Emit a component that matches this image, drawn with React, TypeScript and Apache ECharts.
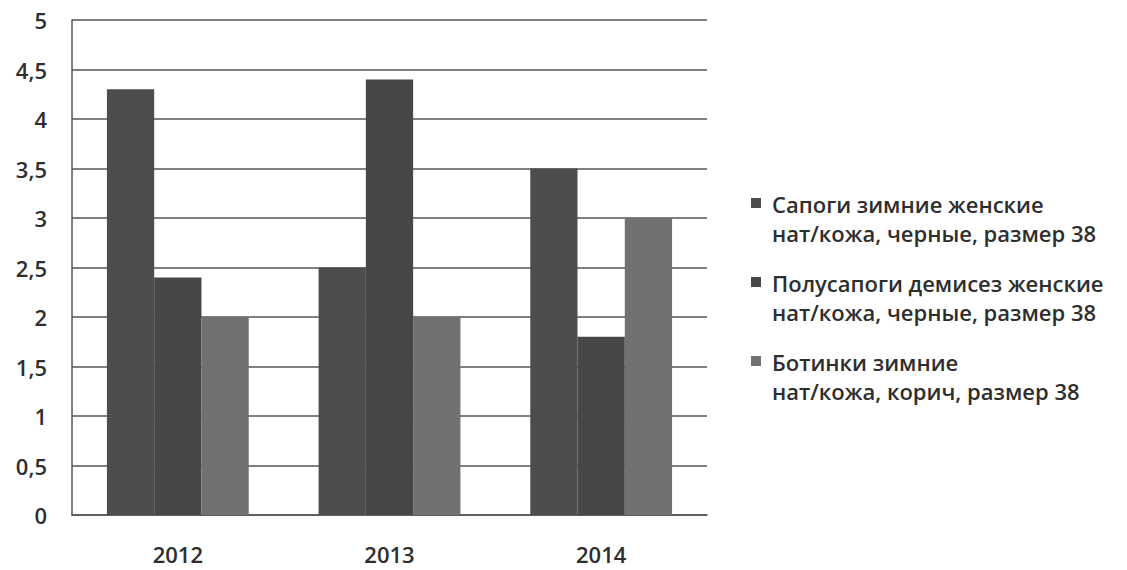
import React, { useEffect, useRef } from "react";
import * as echarts from "echarts";

const categories = ["2012", "2013", "2014"];
const seriesNames = [
  "Сапоги зимние женские\nнат/кожа, черные, размер 38",
  "Полусапоги демисез женские\nнат/кожа, черные, размер 38",
  "Ботинки зимние\nнат/кожа, корич, размер 38",
];
const seriesA = [4.3, 2.5, 3.5];
const seriesB = [2.4, 4.4, 1.8];
const seriesC = [2.0, 2.0, 3.0];
const colors = ["#4d4d4d", "#474747", "#717171"];

const FONT = "'Open Sans', 'Noto Sans', sans-serif";
const TEXT = "#2e2e2e";

export default function App() {
  const ref = useRef<HTMLDivElement>(null);
  useEffect(() => {
    if (!ref.current) return;
    const chart = echarts.init(ref.current, undefined, { renderer: "svg" });
    const values = [seriesA, seriesB, seriesC];
    const legendGraphics: any[] = [];
    seriesNames.forEach((name, i) => {
      const y0 = 203 + i * 79;
      legendGraphics.push({
        type: "rect",
        shape: { x: 751, y: y0 - 5, width: 10, height: 10 },
        style: { fill: colors[i] },
      });
      legendGraphics.push({
        type: "text",
        x: 772,
        y: y0 - 14,
        style: {
          text: name,
          font: `600 22px ${FONT}`,
          fill: TEXT,
          lineHeight: 29,
          textVerticalAlign: "top",
        },
      });
    });
    chart.setOption({
      animation: false,
      color: colors,
      grid: { left: 72, top: 20, width: 635, bottom: 55 },
      xAxis: {
        type: "category",
        data: categories,
        axisLine: { show: true, lineStyle: { color: "#555", width: 1.5 } },
        axisTick: { show: false },
        axisLabel: { margin: 28, fontSize: 22, fontWeight: 600, color: TEXT, fontFamily: FONT },
      },
      yAxis: {
        type: "value",
        min: 0,
        max: 5,
        interval: 0.5,
        axisLine: { show: true, lineStyle: { color: "#555", width: 1.5 } },
        axisTick: { show: false },
        splitLine: { lineStyle: { color: "#555", width: 1.5 } },
        axisLabel: {
          margin: 25,
          fontSize: 22,
          fontWeight: 600,
          color: TEXT,
          fontFamily: FONT,
          formatter: (v: number) => String(v).replace(".", ","),
        },
      },
      series: values.map((d, i) => ({
        type: "bar",
        name: seriesNames[i],
        data: d,
        barGap: "0%",
        barCategoryGap: "33%",
        itemStyle: { color: colors[i] },
      })),
      graphic: legendGraphics,
    });
    return () => chart.dispose();
  }, []);
  return (
    <div
      ref={ref}
      style={{ position: "fixed", left: 0, top: 0, width: 1127, height: 570, background: "#fff" }}
    />
  );
}
